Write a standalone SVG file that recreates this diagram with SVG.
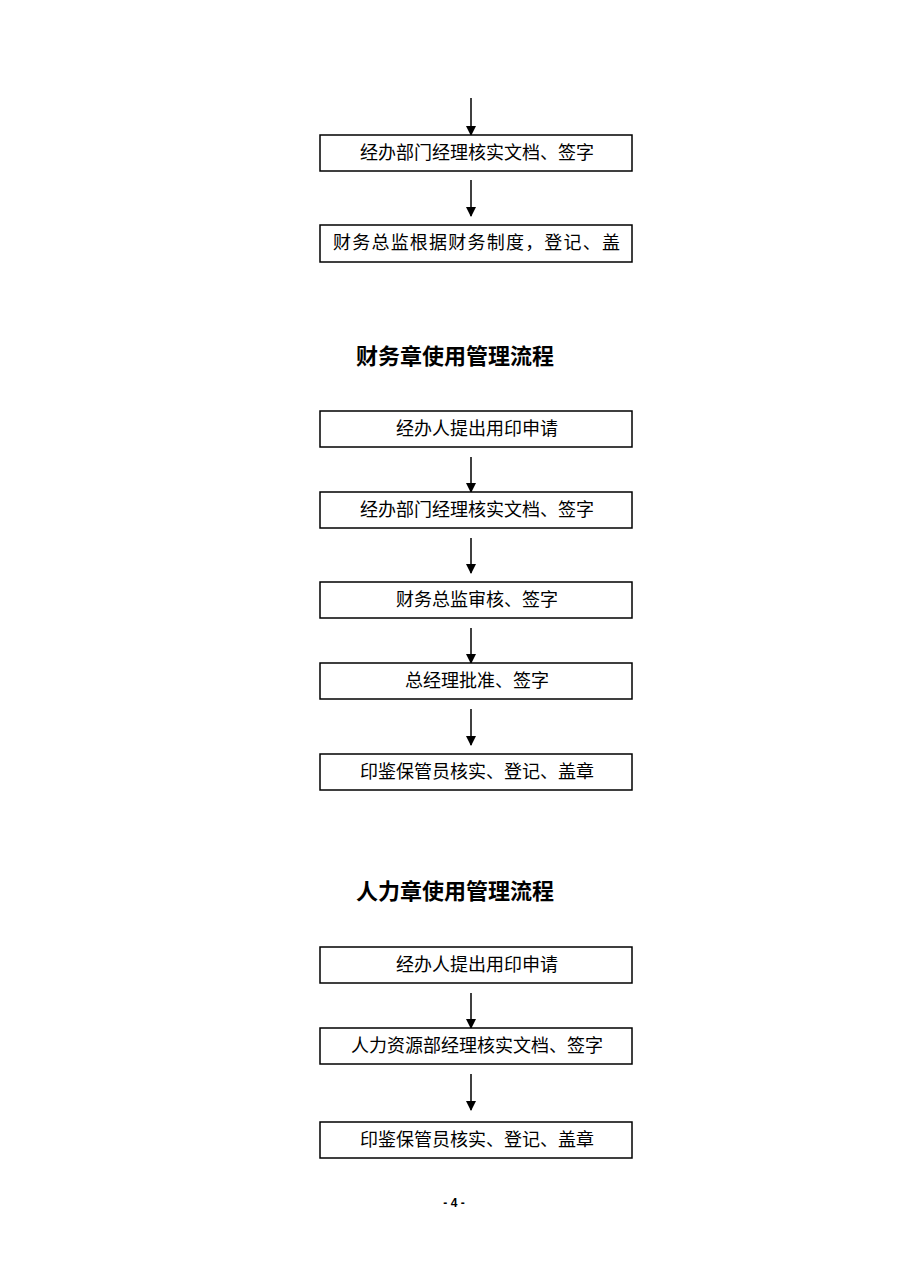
<svg xmlns="http://www.w3.org/2000/svg" width="909" height="1286" viewBox="0 0 909 1286">
<style>
.b{fill:#fff;stroke:#000;stroke-width:1.5}
.t{font-family:"Liberation Sans","Noto Sans CJK SC",sans-serif;font-size:18px;fill:#000;text-anchor:middle}
.h{font-family:"Liberation Sans","Noto Sans CJK SC",sans-serif;font-size:22px;font-weight:bold;fill:#000;text-anchor:middle}
.c line{stroke:#000;stroke-width:1.5;marker-end:url(#a)}
</style>
<defs><marker id="a" markerWidth="10" markerHeight="10" refX="9" refY="5" orient="auto" markerUnits="userSpaceOnUse"><path d="M0,0L10,5L0,10z" fill="#000"/></marker></defs>
<rect width="909" height="1286" fill="#fff"/>
<g class="c">
<line x1="471" y1="98" x2="471" y2="135"/>
<line x1="471" y1="180" x2="471" y2="216"/>
<line x1="471" y1="457" x2="471" y2="492"/>
<line x1="471" y1="538" x2="471" y2="573"/>
<line x1="471" y1="628" x2="471" y2="663"/>
<line x1="471" y1="709" x2="471" y2="745"/>
<line x1="471" y1="993" x2="471" y2="1028"/>
<line x1="471" y1="1074" x2="471" y2="1110"/>
</g>
<g id="n1"><rect class="b" x="320" y="135" width="312" height="36"/><text class="t" x="477" y="159">经办部门经理核实文档、签字</text></g>
<g id="n2"><rect class="b" x="320" y="225" width="312" height="37"/><text class="t" x="333" y="249" style="text-anchor:start" textLength="287">财务总监根据财务制度，登记、盖</text></g>
<text class="h" x="455" y="364">财务章使用管理流程</text>
<g id="f1"><rect class="b" x="320" y="411" width="312" height="36"/><text class="t" x="477" y="435">经办人提出用印申请</text></g>
<g id="f2"><rect class="b" x="320" y="492" width="312" height="36"/><text class="t" x="477" y="516">经办部门经理核实文档、签字</text></g>
<g id="f3"><rect class="b" x="320" y="582" width="312" height="36"/><text class="t" x="477" y="606">财务总监审核、签字</text></g>
<g id="f4"><rect class="b" x="320" y="663" width="312" height="36"/><text class="t" x="477" y="687">总经理批准、签字</text></g>
<g id="f5"><rect class="b" x="320" y="754" width="312" height="36"/><text class="t" x="477" y="778">印鉴保管员核实、登记、盖章</text></g>
<text class="h" x="455" y="899">人力章使用管理流程</text>
<g id="r1"><rect class="b" x="320" y="947" width="312" height="36"/><text class="t" x="477" y="971">经办人提出用印申请</text></g>
<g id="r2"><rect class="b" x="320" y="1028" width="312" height="36"/><text class="t" x="477" y="1052">人力资源部经理核实文档、签字</text></g>
<g id="r3"><rect class="b" x="320" y="1122" width="312" height="36"/><text class="t" x="477" y="1146">印鉴保管员核实、登记、盖章</text></g>
<text x="454" y="1207" style="font-family:'Liberation Sans',sans-serif;font-size:12px;font-weight:bold;text-anchor:middle">- 4 -</text>
</svg>
